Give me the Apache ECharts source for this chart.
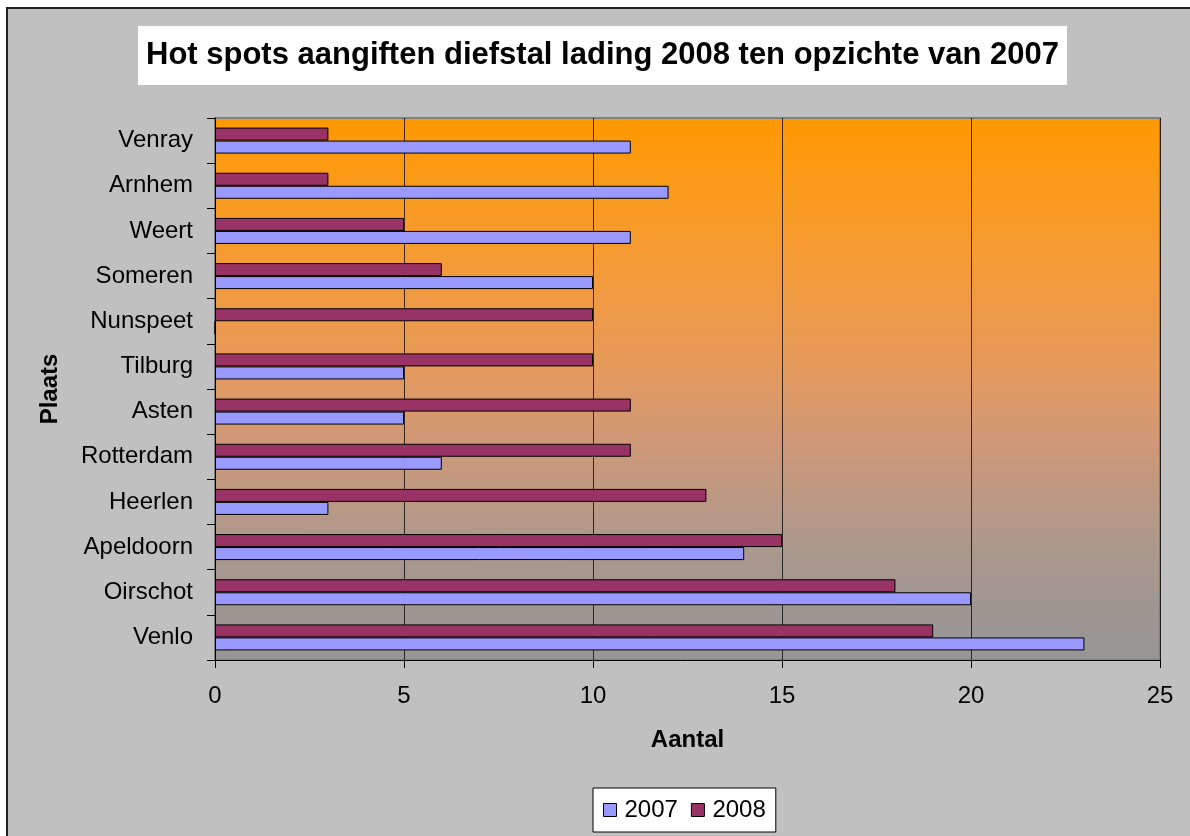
<!DOCTYPE html>
<html>
<head>
<meta charset="utf-8">
<title>Hot spots aangiften diefstal lading</title>
<script src="https://cdn.jsdelivr.net/npm/echarts@6/dist/echarts.min.js"></script>
<style>
    html, body { margin: 0; padding: 0; background: #fff; }
    #chart { width: 1190px; height: 836px; }
</style>
</head>
<body>
<div id="chart"></div>
<script>
// categories from bottom to top, as the y axis draws them
var plaatsen = ['Venlo', 'Oirschot', 'Apeldoorn', 'Heerlen', 'Rotterdam', 'Asten',
    'Tilburg', 'Nunspeet', 'Someren', 'Weert', 'Arnhem', 'Venray'];
var aantal2007 = [23, 20, 14, 3, 6, 5, 5, 0, 10, 11, 12, 11];
var aantal2008 = [19, 18, 15, 13, 11, 11, 10, 10, 6, 5, 3, 3];
var xTicks = [0, 5, 10, 15, 20, 25];

var font = '"Liberation Sans", Arial, sans-serif';

var chart = echarts.init(document.getElementById('chart'));

var plotBg = new echarts.graphic.LinearGradient(0, 0, 0, 1, [
    { offset: 0, color: '#ff9900' },
    { offset: 0.25, color: '#f69b33' },
    { offset: 0.45, color: '#e69a5a' },
    { offset: 0.6, color: '#cf9878' },
    { offset: 0.8, color: '#aa988e' },
    { offset: 1, color: '#969696' }
]);

var option = {
    animation: false,
    graphic: [
        {
            type: 'rect',
            z: -10,
            shape: { x: 7, y: 8, width: 1300, height: 1000 },
            style: { fill: '#c0c0c0', stroke: '#222', lineWidth: 2 }
        }
    ],
    title: {
        text: 'Hot spots aangiften diefstal lading 2008 ten opzichte van 2007',
        left: 138,
        top: 26,
        backgroundColor: '#fff',
        padding: [14, 8],
        textStyle: {
            fontFamily: font,
            fontSize: 31,
            lineHeight: 31,
            fontWeight: 'bold',
            color: '#000'
        }
    },
    legend: {
        data: ['2007', '2008'],
        left: 593,
        top: 788,
        orient: 'horizontal',
        backgroundColor: '#fff',
        borderColor: '#000',
        borderWidth: 1,
        borderRadius: 0,
        padding: [10, 10],
        itemGap: 13,
        itemWidth: 13,
        itemHeight: 13,
        icon: 'rect',
        itemStyle: { borderColor: '#000', borderWidth: 1 },
        textStyle: {
            fontFamily: font,
            fontSize: 24,
            color: '#000',
            padding: [0, 0, 0, 3]
        }
    },
    grid: {
        left: 215,
        top: 118,
        right: 30,
        bottom: 176,
        show: true,
        backgroundColor: plotBg,
        borderColor: '#808080',
        borderWidth: 2
    },
    xAxis: {
        type: 'value',
        min: xTicks[0],
        max: xTicks[xTicks.length - 1],
        interval: 5,
        name: 'Aantal',
        nameLocation: 'middle',
        nameGap: 68,
        nameTextStyle: { fontFamily: font, fontSize: 24, fontWeight: 'bold', color: '#000' },
        axisLine: { show: true, lineStyle: { color: '#000', width: 1 } },
        axisTick: { show: true, length: 8, lineStyle: { color: '#000' } },
        axisLabel: { fontFamily: font, fontSize: 24, color: '#000', margin: 24 },
        splitLine: { show: true, lineStyle: { color: 'rgba(0,0,0,0.75)', width: 1 } }
    },
    yAxis: {
        type: 'category',
        data: plaatsen,
        name: 'Plaats',
        nameLocation: 'middle',
        nameGap: 153,
        nameTextStyle: { fontFamily: font, fontSize: 24, fontWeight: 'bold', color: '#000' },
        axisLine: { show: true, lineStyle: { color: '#000', width: 1 } },
        axisTick: { show: true, length: 8, alignWithLabel: false, lineStyle: { color: '#000' } },
        axisLabel: { fontFamily: font, fontSize: 24, color: '#000', margin: 22 },
        splitLine: { show: false }
    },
    series: [
        {
            name: '2008',
            type: 'bar',
            data: aantal2008,
            barWidth: 13,
            barGap: '0%',
            itemStyle: { color: '#993366', borderColor: '#000', borderWidth: 1 }
        },
        {
            name: '2007',
            type: 'bar',
            data: aantal2007,
            barWidth: 13,
            barGap: '0%',
            itemStyle: { color: '#9999ff', borderColor: '#000', borderWidth: 1 }
        }
    ]
};

chart.setOption(option);
</script>
</body>
</html>
